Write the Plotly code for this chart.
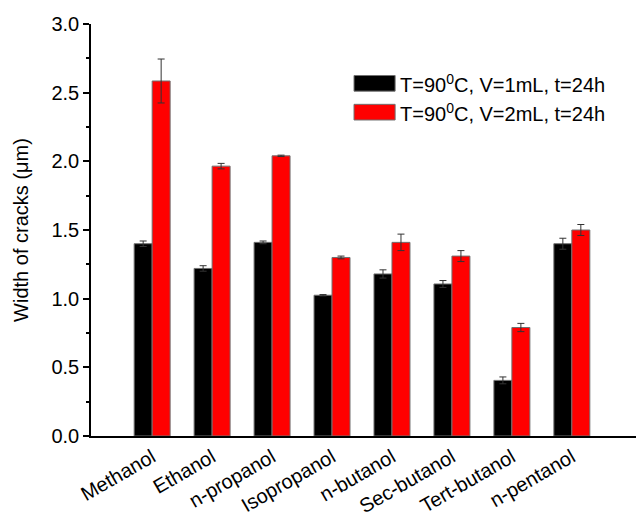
import plotly.graph_objects as go

categories = ["Methanol", "Ethanol", "n-propanol", "Isopropanol", "n-butanol",
              "Sec-butanol", "Tert-butanol", "n-pentanol"]
v1_values = [1.40, 1.22, 1.41, 1.025, 1.18, 1.107, 0.405, 1.40]
v1_errors = [0.02, 0.02, 0.01, 0.005, 0.03, 0.025, 0.025, 0.04]
v2_values = [2.585, 1.965, 2.04, 1.30, 1.41, 1.31, 0.79, 1.50]
v2_errors = [0.16, 0.02, 0.005, 0.01, 0.06, 0.04, 0.03, 0.04]
series_names = ["T=90<sup>0</sup>C, V=1mL, t=24h", "T=90<sup>0</sup>C, V=2mL, t=24h"]
y_ticks = [0.0, 0.5, 1.0, 1.5, 2.0, 2.5, 3.0]

FONT = "Liberation Sans, Arial, sans-serif"
xpos = list(range(len(categories)))

fig = go.Figure()
for vals, errs, color, name in [(v1_values, v1_errors, "#000000", series_names[0]),
                                (v2_values, v2_errors, "#ff0000", series_names[1])]:
    fig.add_trace(go.Bar(
        x=xpos, y=vals, name=name, showlegend=False,
        marker=dict(color=color, line=dict(color="#707070", width=1)),
        error_y=dict(type="data", array=errs, visible=True,
                     color="#333333", thickness=1, width=3.5),
    ))

fig.update_layout(
    width=639, height=524,
    margin=dict(l=91, r=3, t=24, b=88),
    paper_bgcolor="white", plot_bgcolor="white",
    barmode="group", bargap=0.4, bargroupgap=0,
    font=dict(family=FONT, size=20, color="black"),
    xaxis=dict(
        range=[-1.02, 8.07], tickvals=xpos, ticktext=categories,
        tickangle=-30, showline=True, linecolor="black", linewidth=1.5,
        ticks="", showgrid=False, zeroline=False, automargin=False,
        tickfont=dict(family=FONT, size=20),
    ),
    yaxis=dict(
        range=[0, 3.0], tickvals=y_ticks, ticktext=[f"{v:.1f}" for v in y_ticks],
        ticks="outside", ticklen=6, tickwidth=1.5, tickcolor="black",
        showline=True, linecolor="black", linewidth=1.5,
        showgrid=False, zeroline=False, automargin=False,
        minor=dict(ticks="outside", ticklen=3, tickwidth=1.5, tickcolor="black", dtick=0.25, showgrid=False),
        tickfont=dict(family=FONT, size=20),
        title=dict(text="Width of cracks (\u03bcm)", font=dict(family=FONT, size=20), standoff=17),
    ),
)

# custom legend (large swatches, as in the reference)
legend_items = [("#000000", series_names[0], 0.856), ("#ff0000", series_names[1], 0.786)]
for color, name, yc in legend_items:
    fig.add_shape(type="rect", xref="paper", yref="paper",
                  x0=0.4826, x1=0.558, y0=yc - 0.019, y1=yc + 0.019,
                  fillcolor=color, line=dict(color="#707070", width=1))
    fig.add_annotation(xref="paper", yref="paper", x=0.563, y=yc, text=name,
                       showarrow=False, xanchor="left", yanchor="middle",
                       font=dict(family=FONT, size=20, color="black"))

fig.write_html("out.html", config={"displayModeBar": False},
               post_script="document.body.style.margin='0';")
